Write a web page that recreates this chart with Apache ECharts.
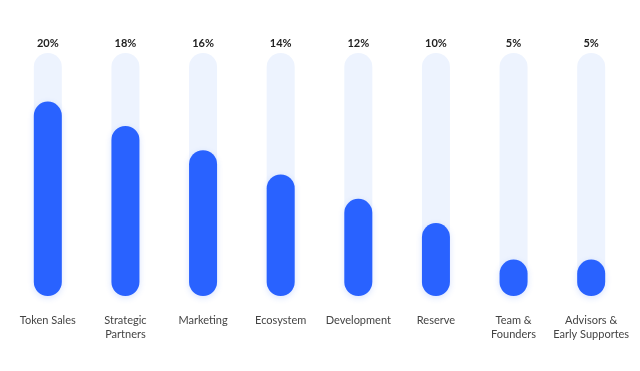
<!DOCTYPE html>
<html><head><meta charset="utf-8">
<script src="https://cdn.jsdelivr.net/npm/echarts@6/dist/echarts.min.js"></script>
<style>html,body{margin:0;padding:0;background:#fff}#c{width:640px;height:371px}</style>
</head><body><div id="c"></div>
<script>
var categories = ['Token Sales', 'Strategic\nPartners', 'Marketing', 'Ecosystem', 'Development', 'Reserve', 'Team &\nFounders', 'Advisors &\nEarly Supportes'];
var shareLabels = ['20%', '18%', '16%', '14%', '12%', '10%', '5%', '5%'];
var fillLevels = [80, 70, 60, 50, 40, 30, 15, 15];
var trackLevels = [100, 100, 100, 100, 100, 100, 100, 100];

var chart = echarts.init(document.getElementById('c'));
chart.setOption({
  animation: false,
  grid: { left: 9, right: 10, top: 53, bottom: 75, containLabel: false },
  xAxis: {
    type: 'category', data: categories,
    axisLine: { show: false }, axisTick: { show: false },
    axisLabel: { color: '#444', fontFamily: 'Lato', fontSize: 11, lineHeight: 14, margin: 17, interval: 0 }
  },
  yAxis: { type: 'value', min: 0, max: 100, show: false, splitLine: { show: false } },
  series: [
    {
      type: 'bar', data: trackLevels, barWidth: 28, barGap: '-100%', silent: true,
      itemStyle: { color: '#edf3fe', borderRadius: 14 },
      label: {
        show: true, position: 'top', distance: 4,
        formatter: function (p) { return shareLabels[p.dataIndex]; },
        color: '#222', fontFamily: 'Lato', fontWeight: 'bold', fontSize: 11
      },
      z: 1
    },
    {
      type: 'bar', data: fillLevels, barWidth: 28,
      itemStyle: { color: '#2962ff', borderRadius: 14, shadowBlur: 6, shadowColor: 'rgba(41,98,255,0.18)', shadowOffsetY: 2 },
      z: 2
    }
  ]
});
</script></body></html>
